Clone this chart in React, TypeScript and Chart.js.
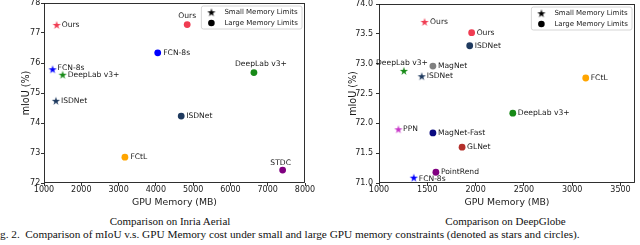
import React, { useEffect, useRef } from 'react';
import { Chart, registerables } from 'chart.js';

Chart.register(...registerables);

// ---------------- Data: Inria Aerial ----------------
const inriaStarNames = ['Ours', 'FCN-8s', 'DeepLab v3+', 'ISDNet'];
const inriaStarMemory = [1340, 1230, 1500, 1320];
const inriaStarMIoU = [77.27, 75.79, 75.61, 74.74];

const inriaCircleNames = ['Ours', 'FCN-8s', 'DeepLab v3+', 'ISDNet', 'FCtL', 'STDC'];
const inriaCircleMemory = [4840, 4050, 6630, 4680, 3170, 7400];
const inriaCircleMIoU = [77.28, 76.34, 75.68, 74.23, 72.86, 72.43];

const inriaXTicks = [1000, 2000, 3000, 4000, 5000, 6000, 7000, 8000];
const inriaYTicks = [72, 73, 74, 75, 76, 77, 78];
const inriaXRange = [1000, 8000];
const inriaYRange = [72, 78];

// ---------------- Data: DeepGlobe ----------------
const globeStarNames = ['Ours', 'DeepLab v3+', 'ISDNet', 'PPN', 'FCN-8s'];
const globeStarMemory = [1472, 1258, 1442, 1201, 1360];
const globeStarMIoU = [73.7, 72.88, 72.79, 71.9, 71.09];

const globeCircleNames = ['Ours', 'ISDNet', 'MagNet', 'FCtL', 'DeepLab v3+', 'MagNet-Fast', 'GLNet', 'PointRend'];
const globeCircleMemory = [1959, 1939, 1558, 3140, 2385, 1558, 1860, 1589];
const globeCircleMIoU = [73.52, 73.3, 72.96, 72.76, 72.17, 71.84, 71.6, 71.18];

const globeXTicks = [1000, 1500, 2000, 2500, 3000, 3500];
const globeYTicks = [71.0, 71.5, 72.0, 72.5, 73.0, 73.5, 74.0];
const globeXRange = [1000, 3650];
const globeYRange = [71, 74];

const legendLabels = ['Small Memory Limits', 'Large Memory Limits'];

// ---------------- Styles (kept apart from data) ----------------
const methodColors: Record<string, string> = {
  Ours: '#f03c52',
  'FCN-8s': '#0000ff',
  'DeepLab v3+': '#178a17',
  ISDNet: '#1f3a5f',
  FCtL: '#ffa500',
  STDC: '#800080',
  MagNet: '#808080',
  'MagNet-Fast': '#0a0a80',
  GLNet: '#b3302b',
  PointRend: '#800080',
  PPN: '#c837c8',
};

// label offsets [dx, dy, align]
type LabelPos = [number, number, CanvasTextAlign];
const R: LabelPos = [5, 0, 'left'];
const inriaStarLabelPos: LabelPos[] = [R, [5, -1.5, 'left'], R, R];
const inriaCircleLabelPos: LabelPos[] = [[0, -8.5, 'center'], [5.5, 0, 'left'], [7, -8.5, 'center'], R, [5.5, 0, 'left'], [-2, -7, 'center']];
const globeStarLabelPos: LabelPos[] = [[5.5, 0, 'left'], [-2, -8, 'center'], R, [4.7, 0, 'left'], [5, 1, 'left']];
const globeCircleLabelPos: LabelPos[] = [R, R, R, R, R, R, R, R];

const FONT = 'DejaVu Sans';

const starCache: Record<string, HTMLCanvasElement> = {};
function starImage(color: string): HTMLCanvasElement {
  if (starCache[color]) return starCache[color];
  const Rad = 4.3;
  const size = 10;
  const c = document.createElement('canvas');
  c.width = size;
  c.height = size;
  const ctx = c.getContext('2d')!;
  const r = Rad * 0.382;
  ctx.beginPath();
  for (let i = 0; i < 10; i++) {
    const rad = i % 2 === 0 ? Rad : r;
    const a = -Math.PI / 2 + (i * Math.PI) / 5;
    const px = size / 2 + rad * Math.cos(a);
    const py = size / 2 + 0.4 + rad * Math.sin(a);
    if (i === 0) ctx.moveTo(px, py);
    else ctx.lineTo(px, py);
  }
  ctx.closePath();
  ctx.fillStyle = color;
  ctx.fill();
  starCache[color] = c;
  return c;
}

const framePlugin = {
  id: 'frame',
  afterDatasetsDraw(chart: any) {
    const { ctx, chartArea: a } = chart;
    ctx.save();
    ctx.strokeStyle = '#1a1a1a';
    ctx.lineWidth = 0.9;
    ctx.strokeRect(Math.round(a.left) + 0.5, Math.round(a.top) + 0.5, Math.round(a.right - a.left) - 1, Math.round(a.bottom - a.top) - 1);
    ctx.restore();
  },
};

const labelPlugin = {
  id: 'pointLabels',
  afterDatasetsDraw(chart: any) {
    const { ctx } = chart;
    ctx.save();
    ctx.font = `7.6px "${FONT}"`;
    ctx.fillStyle = '#1a1a1a';
    ctx.textBaseline = 'middle';
    chart.data.datasets.forEach((ds: any, di: number) => {
      const meta = chart.getDatasetMeta(di);
      meta.data.forEach((el: any, i: number) => {
        const pos: LabelPos = ds.labelPos[i];
        ctx.textAlign = pos[2];
        ctx.fillText(ds.names[i], el.x + pos[0], el.y + pos[1]);
      });
    });
    ctx.restore();
  },
};

const legendPlugin = {
  id: 'boxLegend',
  afterDraw(chart: any) {
    const { ctx, chartArea: a } = chart;
    ctx.save();
    ctx.font = `7px "${FONT}"`;
    const tw = Math.max(...legendLabels.map((t) => ctx.measureText(t).width));
    const w = 23 + tw + 4;
    const h = 23;
    const x0 = a.right - 3 - w;
    const y0 = a.top + 3;
    ctx.beginPath();
    const rr = 2;
    ctx.moveTo(x0 + rr, y0);
    ctx.lineTo(x0 + w - rr, y0);
    ctx.quadraticCurveTo(x0 + w, y0, x0 + w, y0 + rr);
    ctx.lineTo(x0 + w, y0 + h - rr);
    ctx.quadraticCurveTo(x0 + w, y0 + h, x0 + w - rr, y0 + h);
    ctx.lineTo(x0 + rr, y0 + h);
    ctx.quadraticCurveTo(x0, y0 + h, x0, y0 + h - rr);
    ctx.lineTo(x0, y0 + rr);
    ctx.quadraticCurveTo(x0, y0, x0 + rr, y0);
    ctx.closePath();
    ctx.fillStyle = 'rgba(255,255,255,0.85)';
    ctx.fill();
    ctx.strokeStyle = '#cccccc';
    ctx.lineWidth = 0.8;
    ctx.stroke();
    const star = starImage('#000000');
    ctx.drawImage(star, x0 + 10 - star.width / 2, y0 + 6.3 - star.height / 2);
    ctx.beginPath();
    ctx.arc(x0 + 10, y0 + 17, 3.3, 0, Math.PI * 2);
    ctx.fillStyle = '#000';
    ctx.fill();
    ctx.fillStyle = '#1a1a1a';
    ctx.textBaseline = 'middle';
    ctx.textAlign = 'left';
    ctx.fillText(legendLabels[0], x0 + 23, y0 + 6.3);
    ctx.fillText(legendLabels[1], x0 + 23, y0 + 17);
    ctx.restore();
  },
};

type PanelSpec = {
  starNames: string[];
  starX: number[];
  starY: number[];
  starLabelPos: LabelPos[];
  circleNames: string[];
  circleX: number[];
  circleY: number[];
  circleLabelPos: LabelPos[];
  xTicks: number[];
  yTicks: number[];
  xRange: number[];
  yRange: number[];
  yDecimals: number;
  yAxisWidth: number;
  yTitlePad: number;
  yTickPad: number;
  padRight: number;
};

function buildConfig(p: PanelSpec): any {
  return {
    type: 'scatter',
    data: {
      datasets: [
        {
          label: 'Small Memory Limits',
          names: p.starNames,
          labelPos: p.starLabelPos,
          data: p.starX.map((x, i) => ({ x, y: p.starY[i] })),
          pointStyle: p.starNames.map((n) => starImage(methodColors[n])),
          pointRadius: 4,
          clip: false,
        },
        {
          label: 'Large Memory Limits',
          names: p.circleNames,
          labelPos: p.circleLabelPos,
          data: p.circleX.map((x, i) => ({ x, y: p.circleY[i] })),
          pointStyle: 'circle',
          pointRadius: 3.4,
          pointBorderWidth: 0,
          pointBackgroundColor: p.circleNames.map((n) => methodColors[n]),
          pointBorderColor: p.circleNames.map((n) => methodColors[n]),
          clip: false,
        },
      ],
    },
    options: {
      animation: false,
      responsive: false,
      devicePixelRatio: 1,
      layout: { padding: { top: 6, left: 0, right: p.padRight, bottom: 0 } },
      plugins: { legend: { display: false }, tooltip: { enabled: false } },
      scales: {
        x: {
          type: 'linear',
          min: p.xRange[0],
          max: p.xRange[1],
          afterBuildTicks: (s: any) => {
            s.ticks = p.xTicks.map((v) => ({ value: v }));
          },
          afterFit: (s: any) => {
            s.height = 29;
          },
          border: { display: false },
          grid: { drawOnChartArea: false, drawTicks: true, tickLength: 3, color: '#1a1a1a', lineWidth: 0.9 },
          ticks: {
            padding: 0,
            maxRotation: 0,
            autoSkip: false,
            color: '#1a1a1a',
            font: { family: FONT, size: 8, lineHeight: 1 },
            callback: (v: any) => String(v),
          },
          title: {
            display: true,
            text: 'GPU Memory (MB)',
            color: '#1a1a1a',
            font: { family: FONT, size: 9.3, lineHeight: 1.2 },
            padding: { top: 0, bottom: 3.5 },
          },
        },
        y: {
          type: 'linear',
          min: p.yRange[0],
          max: p.yRange[1],
          afterBuildTicks: (s: any) => {
            s.ticks = p.yTicks.map((v) => ({ value: v }));
          },
          afterFit: (s: any) => {
            s.width = p.yAxisWidth;
          },
          border: { display: false },
          grid: { drawOnChartArea: false, drawTicks: true, tickLength: 3, color: '#1a1a1a', lineWidth: 0.9 },
          ticks: {
            padding: p.yTickPad,
            autoSkip: false,
            color: '#1a1a1a',
            font: { family: FONT, size: 8, lineHeight: 1 },
            callback: (v: any) => Number(v).toFixed(p.yDecimals),
          },
          title: {
            display: true,
            text: 'mIoU (%)',
            color: '#1a1a1a',
            font: { family: FONT, size: 9.6, lineHeight: 1.2 },
            padding: { top: p.yTitlePad, bottom: 0 },
          },
        },
      },
    },
    plugins: [framePlugin, labelPlugin, legendPlugin],
  };
}

function Panel({ spec, left }: { spec: PanelSpec; left: number }) {
  const ref = useRef<HTMLCanvasElement>(null);
  useEffect(() => {
    const chart = new Chart(ref.current as HTMLCanvasElement, buildConfig(spec));
    return () => chart.destroy();
  }, []);
  return (
    <canvas
      ref={ref}
      width={320}
      height={215}
      style={{ position: 'absolute', left, top: -3, width: 320, height: 215, display: 'block' }}
    />
  );
}

const inriaSpec: PanelSpec = {
  starNames: inriaStarNames,
  starX: inriaStarMemory,
  starY: inriaStarMIoU,
  starLabelPos: inriaStarLabelPos,
  circleNames: inriaCircleNames,
  circleX: inriaCircleMemory,
  circleY: inriaCircleMIoU,
  circleLabelPos: inriaCircleLabelPos,
  xTicks: inriaXTicks,
  yTicks: inriaYTicks,
  xRange: inriaXRange,
  yRange: inriaYRange,
  yDecimals: 0,
  yAxisWidth: 44,
  yTitlePad: 20.5,
  yTickPad: 0.7,
  padRight: 15,
};

const globeSpec: PanelSpec = {
  starNames: globeStarNames,
  starX: globeStarMemory,
  starY: globeStarMIoU,
  starLabelPos: globeStarLabelPos,
  circleNames: globeCircleNames,
  circleX: globeCircleMemory,
  circleY: globeCircleMIoU,
  circleLabelPos: globeCircleLabelPos,
  xTicks: globeXTicks,
  yTicks: globeYTicks,
  xRange: globeXRange,
  yRange: globeYRange,
  yDecimals: 1,
  yAxisWidth: 59,
  yTitlePad: 27.5,
  yTickPad: 3,
  padRight: 1,
};

const serif = '"Liberation Serif", "Times New Roman", serif';

export default function App() {
  return (
    <div
      style={{
        position: 'fixed',
        left: 0,
        top: 0,
        width: 640,
        height: 245,
        background: '#ffffff',
        overflow: 'hidden',
      }}
    >
      <Panel spec={inriaSpec} left={0} />
      <Panel spec={globeSpec} left={320} />
      <div
        style={{
          position: 'absolute',
          left: 70,
          width: 200,
          top: 215.3,
          textAlign: 'center',
          fontFamily: serif,
          fontSize: 11,
          lineHeight: '12px',
          whiteSpace: 'nowrap',
          color: '#111',
        }}
      >
        Comparison on Inria Aerial
      </div>
      <div
        style={{
          position: 'absolute',
          left: 405.5,
          width: 200,
          top: 215.3,
          textAlign: 'center',
          fontFamily: serif,
          fontSize: 11,
          lineHeight: '12px',
          whiteSpace: 'nowrap',
          color: '#111',
        }}
      >
        Comparison on DeepGlobe
      </div>
      <div
        style={{
          position: 'absolute',
          left: 0,
          top: 227.6,
          fontFamily: serif,
          fontSize: 11.25,
          lineHeight: '12px',
          whiteSpace: 'pre',
          color: '#111',
        }}
      >
        {'g. 2.  Comparison of mIoU v.s. GPU Memory cost under small and large GPU memory constraints (denoted as stars and circles).'}
      </div>
    </div>
  );
}
